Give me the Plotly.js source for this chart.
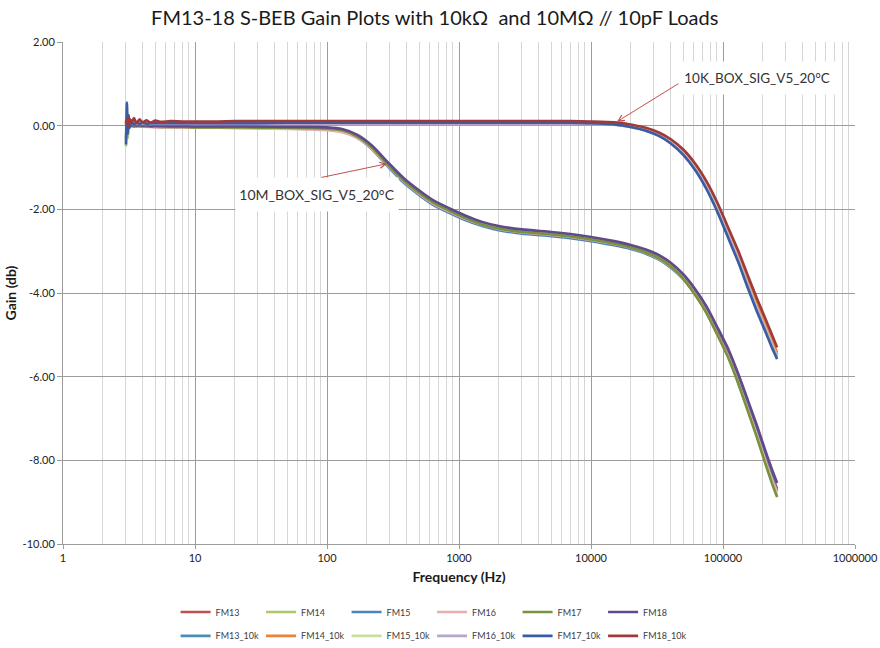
<!DOCTYPE html>
<html>
<head>
<meta charset="utf-8">
<script src="https://cdn.plot.ly/plotly-3.0.1.min.js"></script>
<style>html,body{margin:0;padding:0;background:#fff;}#chart{width:880px;height:648px;}</style>
</head>
<body>
<div id="chart"></div>
<script>
// Frequency (Hz) sample points shared by all series
const freq = [3.0, 3.05, 3.1, 3.15, 3.2, 3.3, 3.45, 3.6, 3.8, 4.0, 4.3, 4.6, 5.0, 5.5, 6.5, 8, 10, 15, 20, 30, 50, 70, 100, 130, 170, 220, 290, 380, 500, 650, 850, 1100, 1500, 2000, 3000, 5000, 7000, 10000, 15000, 20000, 26000, 33000, 40000, 50000, 62000, 75000, 90000, 110000, 130000, 155000, 180000, 210000, 235000, 257000];

// 10 MOhm // 10 pF load (FM13..FM18)
const fm13 = [0.0, 0.02, -0.03, 0.03, 0.0, 0.02, -0.01, 0.01, 0.0, -0.01, 0.0, -0.02, -0.01, -0.02, -0.02, -0.03, -0.03,
  -0.03, -0.03, -0.04, -0.04, -0.05, -0.06,
  -0.10, -0.25, -0.52, -0.92, -1.29, -1.59, -1.84, -2.02, -2.18, -2.34,
  -2.44, -2.52, -2.58, -2.63, -2.70, -2.80, -2.89, -3.00, -3.15, -3.32,
  -3.61, -3.98, -4.39, -4.88, -5.44, -6.02, -6.69, -7.27, -7.91, -8.35, -8.68];
const fm14 = [-0.5, 0.1, -0.3, 0.05, -0.05, 0.02, -0.02, 0.01, -0.01, 0.0, -0.01, -0.02, -0.02, -0.02, -0.03, -0.03, -0.03,
  -0.04, -0.04, -0.04, -0.05, -0.05, -0.07,
  -0.11, -0.26, -0.53, -0.93, -1.30, -1.60, -1.85, -2.03, -2.19, -2.35,
  -2.45, -2.53, -2.59, -2.64, -2.71, -2.81, -2.90, -3.02, -3.17, -3.35,
  -3.65, -4.04, -4.46, -4.96, -5.54, -6.13, -6.82, -7.41, -8.06, -8.52, -8.85];
const fm15 = [0.1, -0.1, 0.05, -0.05, 0.02, 0.0, -0.02, 0.0, -0.01, -0.01, -0.02, -0.02, -0.03, -0.03, -0.03, -0.04, -0.04,
  -0.04, -0.05, -0.05, -0.06, -0.06, -0.08,
  -0.13, -0.29, -0.57, -0.98, -1.36, -1.66, -1.91, -2.09, -2.25, -2.40,
  -2.50, -2.58, -2.64, -2.69, -2.76, -2.86, -2.95, -3.06, -3.21, -3.39,
  -3.67, -4.05, -4.46, -4.95, -5.51, -6.09, -6.76, -7.35, -7.98, -8.41, -8.72];
const fm16 = [0.02, 0.0, -0.02, 0.01, -0.01, 0.0, -0.01, -0.02, -0.02, -0.02, -0.03, -0.03, -0.04, -0.04, -0.04, -0.05, -0.05,
  -0.05, -0.06, -0.07, -0.08, -0.09, -0.11,
  -0.16, -0.30, -0.56, -0.96, -1.33, -1.63, -1.88, -2.06, -2.22, -2.37,
  -2.47, -2.55, -2.61, -2.66, -2.73, -2.83, -2.92, -3.04, -3.19, -3.37,
  -3.66, -4.05, -4.47, -4.97, -5.53, -6.12, -6.80, -7.38, -8.02, -8.46, -8.76];
const fm17 = [-0.3, 0.05, -0.1, 0.02, -0.03, 0.01, -0.01, 0.0, -0.01, -0.01, -0.02, -0.02, -0.02, -0.03, -0.03, -0.03, -0.04,
  -0.04, -0.04, -0.05, -0.05, -0.06, -0.07,
  -0.11, -0.26, -0.53, -0.94, -1.31, -1.61, -1.86, -2.04, -2.20, -2.36,
  -2.46, -2.54, -2.60, -2.65, -2.72, -2.82, -2.91, -3.03, -3.18, -3.36,
  -3.66, -4.06, -4.48, -4.98, -5.56, -6.15, -6.84, -7.44, -8.09, -8.55, -8.88];
const fm18 = [0.05, -0.05, 0.08, -0.02, 0.04, 0.0, 0.03, -0.01, 0.02, 0.0, 0.01, -0.01, 0.0, 0.0, -0.01, -0.01, -0.02,
  -0.02, -0.02, -0.02, -0.03, -0.03, -0.04,
  -0.08, -0.22, -0.48, -0.88, -1.25, -1.55, -1.80, -1.98, -2.14, -2.30,
  -2.40, -2.48, -2.54, -2.59, -2.66, -2.76, -2.85, -2.96, -3.10, -3.27,
  -3.55, -3.92, -4.32, -4.80, -5.35, -5.92, -6.58, -7.15, -7.78, -8.22, -8.54];

// 10 kOhm load (FM13_10k..FM18_10k)
const fm13_10k = [0.1, 0.0, 0.12, 0.03, 0.09, 0.05, 0.08, 0.06, 0.07, 0.06, 0.07, 0.07, 0.07, 0.07, 0.07, 0.07, 0.07,
  0.07, 0.07, 0.07, 0.07, 0.07, 0.07, 0.07, 0.07, 0.07, 0.07, 0.07, 0.07, 0.07, 0.07, 0.07, 0.07, 0.07, 0.07, 0.07, 0.07,
  0.07, 0.04, -0.02, -0.10, -0.22, -0.38, -0.65, -1.02, -1.45, -1.96, -2.60, -3.15, -3.80, -4.32, -4.82, -5.20, -5.48];
const fm14_10k = [0.05, 0.12, 0.02, 0.1, 0.06, 0.09, 0.07, 0.08, 0.08, 0.08, 0.08, 0.08, 0.08, 0.08, 0.08, 0.08, 0.08,
  0.08, 0.08, 0.08, 0.08, 0.08, 0.08, 0.08, 0.08, 0.08, 0.08, 0.08, 0.08, 0.08, 0.08, 0.08, 0.08, 0.08, 0.08, 0.08, 0.08,
  0.08, 0.05, 0.00, -0.08, -0.20, -0.36, -0.62, -0.98, -1.40, -1.90, -2.54, -3.08, -3.71, -4.24, -4.74, -5.12, -5.42];
const fm15_10k = [0.0, 0.1, 0.03, 0.08, 0.04, 0.07, 0.05, 0.06, 0.06, 0.06, 0.06, 0.06, 0.06, 0.06, 0.06, 0.06, 0.06,
  0.06, 0.06, 0.06, 0.06, 0.06, 0.06, 0.06, 0.06, 0.06, 0.06, 0.06, 0.06, 0.06, 0.06, 0.06, 0.06, 0.06, 0.06, 0.06, 0.06,
  0.06, 0.04, -0.02, -0.10, -0.23, -0.39, -0.66, -1.03, -1.46, -1.97, -2.62, -3.17, -3.82, -4.35, -4.85, -5.23, -5.51];
const fm16_10k = [0.02, 0.08, -0.02, 0.06, 0.02, 0.05, 0.03, 0.04, 0.04, 0.04, 0.04, 0.04, 0.04, 0.04, 0.04, 0.04, 0.04,
  0.04, 0.04, 0.04, 0.04, 0.04, 0.04, 0.04, 0.04, 0.04, 0.04, 0.04, 0.04, 0.04, 0.04, 0.04, 0.04, 0.04, 0.04, 0.04, 0.04,
  0.04, 0.02, -0.04, -0.12, -0.25, -0.41, -0.68, -1.05, -1.48, -2.00, -2.64, -3.19, -3.84, -4.37, -4.87, -5.25, -5.53];
const fm17_10k = [-0.45, 0.55, -0.2, 0.25, -0.05, 0.12, 0.02, 0.08, 0.04, 0.07, 0.05, 0.06, 0.06, 0.06, 0.06, 0.06, 0.06,
  0.06, 0.06, 0.06, 0.07, 0.07, 0.07, 0.07, 0.07, 0.07, 0.07, 0.07, 0.07, 0.07, 0.07, 0.07, 0.07, 0.07, 0.07, 0.07, 0.07,
  0.06, 0.03, -0.03, -0.12, -0.25, -0.42, -0.70, -1.08, -1.52, -2.04, -2.70, -3.25, -3.90, -4.43, -4.93, -5.31, -5.58];
const fm18_10k = [0.15, 0.05, 0.2, 0.0, 0.16, 0.08, 0.18, 0.06, 0.15, 0.08, 0.13, 0.07, 0.12, 0.09, 0.11, 0.10, 0.10,
  0.10, 0.11, 0.11, 0.11, 0.11, 0.11, 0.11, 0.11, 0.11, 0.11, 0.11, 0.11, 0.11, 0.11, 0.11, 0.11, 0.11, 0.11, 0.11, 0.11,
  0.10, 0.08, 0.03, -0.05, -0.17, -0.32, -0.57, -0.92, -1.33, -1.82, -2.45, -2.98, -3.60, -4.12, -4.62, -5.00, -5.30];

const seriesNames = ['FM13', 'FM14', 'FM15', 'FM16', 'FM17', 'FM18',
  'FM13_10k', 'FM14_10k', 'FM15_10k', 'FM16_10k', 'FM17_10k', 'FM18_10k'];
const seriesValues = [fm13, fm14, fm15, fm16, fm17, fm18,
  fm13_10k, fm14_10k, fm15_10k, fm16_10k, fm17_10k, fm18_10k];
const seriesColors = ['#C0504D', '#A9C96A', '#4F81BD', '#E6B0AE', '#77933C', '#604A8B',
  '#4A8FB3', '#E8843A', '#C9DDA0', '#B5A6CC', '#3A5CA3', '#A0393A'];

const xTickVals = [1, 10, 100, 1000, 10000, 100000, 1000000];
const xTickText = ['1', '10', '100', '1000', '10000', '100000', '1000000'];
const yTickVals = [2, 0, -2, -4, -6, -8, -10];
const yTickText = ['2.00', '0.00', '-2.00', '-4.00', '-6.00', '-8.00', '-10.00'];

seriesValues.forEach((v, i) => {
  if (v.length !== freq.length) throw new Error(seriesNames[i] + ' length ' + v.length + ' != ' + freq.length);
});

const minorVals = [];
for (let d = 0; d < 6; d++) for (let m = 2; m <= 9; m++) minorVals.push(m * Math.pow(10, d));

const FONT = 'Lato, "Open Sans", sans-serif';

const traces = seriesNames.map((name, i) => ({
  type: 'scatter', mode: 'lines', name: name,
  x: freq, y: seriesValues[i],
  line: {color: seriesColors[i], width: 2.6, shape: 'spline', smoothing: 0.6},
  legend: i < 6 ? 'legend' : 'legend2',
  hoverinfo: 'skip'
}));

const legendCommon = {
  orientation: 'h', x: 0.466, xanchor: 'center',
  yanchor: 'middle', entrywidth: 40.5, entrywidthmode: 'pixels',
  font: {family: FONT, size: 9, color: '#404040'}, itemwidth: 30,
  tracegroupgap: 0, bgcolor: 'rgba(0,0,0,0)'
};

const layout = {
  width: 880, height: 648,
  margin: {l: 63, r: 25, t: 42, b: 104, autoexpand: false},
  paper_bgcolor: '#ffffff', plot_bgcolor: '#ffffff',
  font: {family: FONT, color: '#333333'},
  title: {text: 'FM13-18 S-BEB Gain Plots with 10kΩ  and 10MΩ // 10pF Loads',
    xref: 'container', x: 0.494, xanchor: 'center', yref: 'container', y: 0.972, yanchor: 'middle',
    font: {family: FONT, size: 20, color: '#1a1a1a'}},
  xaxis: {
    type: 'log', range: [0, 6], tickmode: 'array', tickvals: xTickVals, ticktext: xTickText,
    showgrid: true, gridcolor: '#9c9c9c', gridwidth: 1,
    showline: true, linecolor: '#9c9c9c', linewidth: 1, mirror: false,
    ticks: 'outside', ticklen: 4, tickcolor: '#9c9c9c',
    tickfont: {family: FONT, size: 11, color: '#222'},
    minor: {tickmode: 'array', tickvals: minorVals, showgrid: true, gridcolor: '#d6d6d6', gridwidth: 1, ticks: ''},
    zeroline: false,
    title: {text: 'Frequency (Hz)', font: {family: FONT, size: 14, color: '#1a1a1a', weight: 'bold'}, standoff: 8}
  },
  yaxis: {
    range: [-10, 2], tickmode: 'array', tickvals: yTickVals, ticktext: yTickText,
    showgrid: true, gridcolor: '#9c9c9c', gridwidth: 1,
    showline: true, linecolor: '#9c9c9c', linewidth: 1,
    ticks: 'outside', ticklen: 5, tickcolor: '#9c9c9c',
    tickfont: {family: FONT, size: 11, color: '#222'},
    zeroline: false,
    title: {text: 'Gain (db)', font: {family: FONT, size: 14, color: '#1a1a1a', weight: 'bold'}, standoff: 2}
  },
  legend: Object.assign({}, legendCommon, {y: -0.1355}),
  legend2: Object.assign({}, legendCommon, {y: -0.183}),
  annotations: [
    {xref: 'x', yref: 'y', x: 1.925, y: -1.65, text: '10M_BOX_SIG_V5_20°C', showarrow: false,
      bgcolor: '#ffffff', width: 156, height: 27, borderpad: 3, yshift: 0,
      font: {family: FONT, size: 14, color: '#333'}},
    {xref: 'x', yref: 'y', x: 5.26, y: 1.148, text: '10K_BOX_SIG_V5_20°C', showarrow: false,
      bgcolor: '#ffffff', width: 160, height: 26, borderpad: 3,
      font: {family: FONT, size: 13.5, color: '#333'}},
    {xref: 'x', yref: 'y', x: 2.4545, y: -0.91, text: '', showarrow: true,
      ax: -67, ay: 14, arrowcolor: '#C0504D', arrowwidth: 1, arrowhead: 5, arrowsize: 1.2, standoff: 0, startstandoff: 0},
    {xref: 'x', yref: 'y', x: 4.197, y: 0.096, text: '', showarrow: true,
      ax: 63, ay: -39, arrowcolor: '#C0504D', arrowwidth: 1, arrowhead: 5, arrowsize: 1.2, standoff: 0, startstandoff: 0}
  ],
  showlegend: true
};

Plotly.newPlot('chart', traces, layout, {displayModeBar: false, staticPlot: true});
</script>
</body>
</html>
